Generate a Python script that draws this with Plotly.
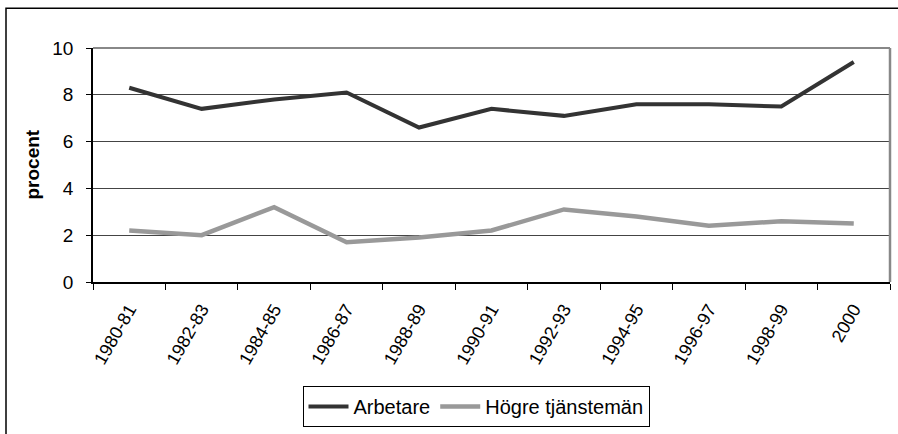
import plotly.graph_objects as go

categories = ["1980-81", "1982-83", "1984-85", "1986-87", "1988-89", "1990-91",
              "1992-93", "1994-95", "1996-97", "1998-99", "2000"]
arbetare = [8.3, 7.4, 7.8, 8.1, 6.6, 7.4, 7.1, 7.6, 7.6, 7.5, 9.4]
hogre = [2.2, 2.0, 3.2, 1.7, 1.9, 2.2, 3.1, 2.8, 2.4, 2.6, 2.5]
y_ticks = [0, 2, 4, 6, 8, 10]

FONT = "Liberation Sans, Arial, sans-serif"

fig = go.Figure()
fig.add_trace(go.Scatter(x=categories, y=arbetare, mode="lines", name="Arbetare",
                         line=dict(color="#333333", width=4)))
fig.add_trace(go.Scatter(x=categories, y=hogre, mode="lines", name="Högre tjänstemän",
                         line=dict(color="#999999", width=4.5)))

W, H = 898, 434
L, R, T, B = 93, 890, 48, 283
pw, ph = R - L, B - T

def px_x(x):
    return (x - L) / pw

def px_y(y):
    return (B - y) / ph

fig.update_layout(
    width=W, height=H,
    margin=dict(l=L, r=W - R, t=T, b=H - B),
    paper_bgcolor="white", plot_bgcolor="white",
    font=dict(family=FONT, size=18, color="black"),
    showlegend=True,
    legend=dict(orientation="h", x=px_x(476), xanchor="center", y=px_y(386), yanchor="top",
                bordercolor="black", borderwidth=1, bgcolor="white",
                font=dict(size=20, family=FONT), itemwidth=40, tracegroupgap=0),
    xaxis=dict(type="category", range=[-0.5, 10.5], tickson="boundaries",
               ticks="outside", ticklen=6, tickcolor="black", tickwidth=1,
               showline=True, linecolor="black", linewidth=1.5,
               showgrid=False, tickangle=-60, tickfont=dict(size=18),
               ticklabelstandoff=8, fixedrange=True),
    yaxis=dict(range=[0, 10], tickvals=y_ticks, ticks="outside", ticklen=5,
               tickcolor="black", showline=True, linecolor="black", linewidth=1.5,
               showgrid=True, gridcolor="#444444", gridwidth=1, zeroline=False,
               tickfont=dict(size=19), ticklabelstandoff=9, fixedrange=True),
    yaxis2=dict(range=[0, 10], tickvals=y_ticks, overlaying="y", side="left",
                ticks="inside", ticklen=5, tickcolor="black", showticklabels=False,
                showgrid=False, zeroline=False, showline=False, fixedrange=True),
    shapes=[
        dict(type="line", xref="paper", yref="paper", x0=0, x1=1, y0=1, y1=1,
             line=dict(color="#888888", width=2), layer="above"),
        dict(type="line", xref="paper", yref="paper", x0=1, x1=1, y0=0, y1=1,
             line=dict(color="#888888", width=2.5), layer="above"),
        dict(type="rect", xref="paper", yref="paper", x0=px_x(6), x1=px_x(960),
             y0=px_y(500), y1=px_y(8), line=dict(color="black", width=1.5),
             fillcolor="rgba(0,0,0,0)", layer="below"),
    ],
    annotations=[
        dict(text="<b>procent</b>", xref="paper", yref="paper", x=px_x(33), y=px_y(165),
             showarrow=False, textangle=-90, font=dict(size=19, family=FONT),
             xanchor="center", yanchor="middle"),
    ],
)

fig.write_html(
    "out.html",
    config={"displayModeBar": False},
    post_script="document.body.style.margin='0';document.body.style.overflow='hidden';",
)
